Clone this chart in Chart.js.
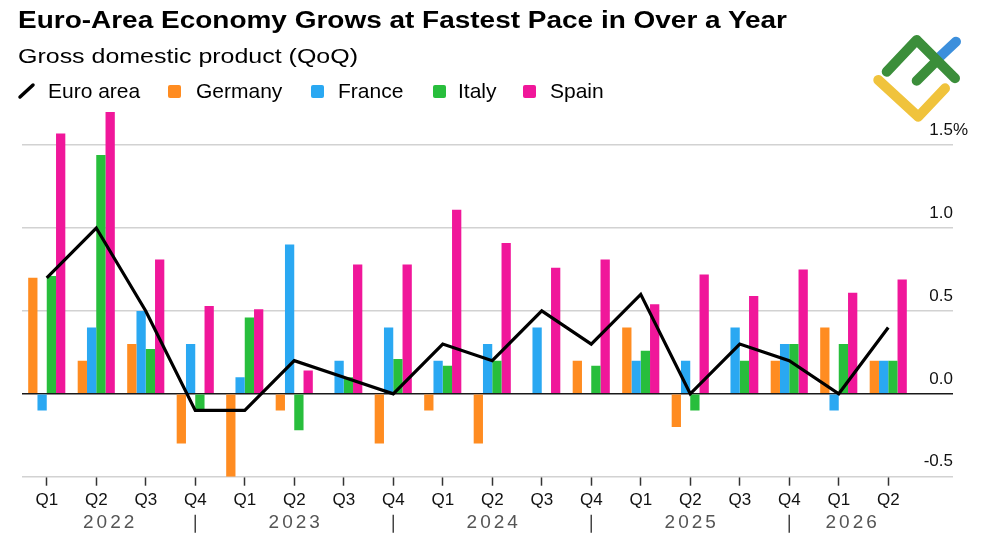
<!DOCTYPE html>
<html>
<head>
<meta charset="utf-8">
<script src="https://cdn.jsdelivr.net/npm/chart.js@4.4.1/dist/chart.umd.min.js"></script>
<style>
  html, body { margin: 0; padding: 0; background: #fff; }
  #wrap { position: relative; width: 1000px; height: 545px; overflow: hidden;
          font-family: 'Liberation Sans', Arial, sans-serif; color: #000; }
  #wrap canvas { position: absolute; left: 0; top: 0; }
  .txt { position: absolute; line-height: 1; white-space: nowrap; transform-origin: 0 0; }
  .title { font-weight: bold; font-size: 23px; left: 18px; top: 8.5px; }
  .sub { font-size: 20px; left: 18px; top: 46px; }
  .leg { font-size: 21px; top: 80px; }
  .sw { position: absolute; width: 13px; height: 13px; border-radius: 2px; top: 84.5px; }
  svg { position: absolute; left: 0; top: 0; }
</style>
</head>
<body>
<div id="wrap">
  <canvas id="chart" width="1000" height="545"></canvas>

  <div class="txt title" data-fit="769">Euro-Area Economy Grows at Fastest Pace in Over a Year</div>
  <div class="txt sub" data-fit="340">Gross domestic product (QoQ)</div>

  <div class="txt leg" style="left:48px">Euro area</div>
  <div class="sw" style="left:168px;background:#FF8C21"></div>
  <div class="txt leg" style="left:196px">Germany</div>
  <div class="sw" style="left:311px;background:#2AA8F2"></div>
  <div class="txt leg" style="left:338px">France</div>
  <div class="sw" style="left:433px;background:#28BE3C"></div>
  <div class="txt leg" style="left:458px">Italy</div>
  <div class="sw" style="left:523px;background:#F0179A"></div>
  <div class="txt leg" style="left:550px">Spain</div>

  <svg width="1000" height="545">
    <line x1="20" y1="97" x2="33" y2="85" stroke="#000" stroke-width="3.5" stroke-linecap="round"/>
    <g fill="none" stroke-width="10" stroke-linecap="round" stroke-linejoin="round">
      <polyline points="878.3,80 918.3,116.7 945,88.3" stroke="#F0C33C"/>
      <line x1="940" y1="56.7" x2="956" y2="41.7" stroke="#3C8FDC"/>
      <polyline points="886.7,71.7 916.7,40 955,78.3" stroke="#3B8E3A"/>
      <line x1="916.7" y1="80.7" x2="936.7" y2="60.7" stroke="#3B8E3A"/>
    </g>
  </svg>
</div>

<script>
const quarters = ['Q1', 'Q2', 'Q3', 'Q4', 'Q1', 'Q2', 'Q3', 'Q4', 'Q1', 'Q2', 'Q3', 'Q4',
                  'Q1', 'Q2', 'Q3', 'Q4', 'Q1', 'Q2'];
const years = ['2022', '2023', '2024', '2025', '2026'];

const euroArea = [0.7, 1.0, 0.5, -0.1, -0.1, 0.2, 0.1, 0.0, 0.3, 0.2, 0.5, 0.3, 0.6, 0.0, 0.3, 0.2, 0.0, 0.4];
const germany  = [0.7, 0.2, 0.3, -0.3, -0.5, -0.1, 0.0, -0.3, -0.1, -0.3, 0.0, 0.2, 0.4, -0.2, 0.0, 0.2, 0.4, 0.2];
const france   = [-0.1, 0.4, 0.5, 0.3, 0.1, 0.9, 0.2, 0.4, 0.2, 0.3, 0.4, 0.0, 0.2, 0.2, 0.4, 0.3, -0.1, 0.2];
const italy    = [0.71, 1.44, 0.27, -0.1, 0.46, -0.22, 0.1, 0.21, 0.17, 0.2, 0.0, 0.17, 0.26, -0.1, 0.2, 0.3, 0.3, 0.2];
const spain    = [1.57, 1.7, 0.81, 0.53, 0.51, 0.14, 0.78, 0.78, 1.11, 0.91, 0.76, 0.81, 0.54, 0.72, 0.59, 0.75, 0.61, 0.69];

const yTicks = [-0.5, 0, 0.5, 1.0, 1.5];
const yTickLabels = ['-0.5', '0.0', '0.5', '1.0', '1.5'];

const FONT = "'Liberation Sans', Arial, sans-serif";

// stretch the header texts to the reference widths
document.querySelectorAll('[data-fit]').forEach(function (el) {
    const w = el.getBoundingClientRect().width;
    el.style.transform = 'scaleX(' + (el.dataset.fit / w) + ')';
});

const extras = {
    id: 'extras',
    afterDraw(chart) {
        const { ctx, chartArea, scales: { x, y } } = chart;
        ctx.save();

        // y labels sit above their grid lines, right aligned at the grid end
        ctx.font = '17px ' + FONT;
        ctx.fillStyle = '#111';
        ctx.textBaseline = 'middle';
        const right = chartArea.right + 40;
        yTicks.forEach(function (v, i) {
            const py = y.getPixelForValue(v) - 15;
            ctx.textAlign = 'right';
            ctx.fillText(yTickLabels[i], right, py);
            if (i === yTicks.length - 1) {
                ctx.textAlign = 'left';
                ctx.fillText('%', right, py);
            }
        });

        // year separators under each Q4, year names between them
        const seps = [];
        quarters.forEach(function (q, i) {
            if (q === 'Q4') seps.push(x.getPixelForValue(i));
        });
        ctx.strokeStyle = '#444';
        ctx.lineWidth = 1.5;
        seps.forEach(function (sx) {
            ctx.beginPath();
            ctx.moveTo(sx, chartArea.bottom + 38);
            ctx.lineTo(sx, chartArea.bottom + 56);
            ctx.stroke();
        });
        const bounds = [chartArea.left].concat(seps, [chartArea.right]);
        ctx.fillStyle = '#555';
        ctx.font = '19px ' + FONT;
        ctx.letterSpacing = '3px';
        ctx.textAlign = 'center';
        years.forEach(function (yr, i) {
            ctx.fillText(yr, (bounds[i] + bounds[i + 1]) / 2 + 1.5, chartArea.bottom + 46);
        });
        ctx.restore();
    }
};

const gridColor = function (c) {
    return c.tick && c.tick.value === 0 ? '#1a1a1a' : '#d2d2d2';
};

const barSet = function (label, data, color) {
    return {
        label: label,
        data: data,
        backgroundColor: color,
        borderWidth: 0,
        barPercentage: 1,
        categoryPercentage: 0.75,
        order: 1
    };
};

new Chart(document.getElementById('chart'), {
    type: 'bar',
    data: {
        labels: quarters,
        datasets: [
            {
                type: 'line',
                label: 'Euro area',
                data: euroArea,
                borderColor: '#000',
                borderWidth: 3.2,
                pointRadius: 0,
                tension: 0,
                fill: false,
                order: 0
            },
            barSet('Germany', germany, '#FF8C21'),
            barSet('France', france, '#2AA8F2'),
            barSet('Italy', italy, '#28BE3C'),
            barSet('Spain', spain, '#F0179A')
        ]
    },
    options: {
        responsive: false,
        animation: false,
        layout: { padding: { left: 22, right: 47, top: 112, bottom: 0 } },
        plugins: {
            legend: { display: false },
            tooltip: { enabled: false }
        },
        scales: {
            x: {
                offset: true,
                grid: {
                    drawOnChartArea: false,
                    drawTicks: true,
                    tickLength: 9,
                    tickColor: '#333',
                    tickWidth: 1.5,
                    offset: false
                },
                border: { display: false },
                ticks: {
                    color: '#111',
                    font: { family: FONT, size: 17 },
                    padding: 4,
                    maxRotation: 0,
                    autoSkip: false
                },
                afterFit: function (s) { s.height = 68.3; }
            },
            y: {
                position: 'right',
                min: -0.5,
                max: 1.7,
                afterBuildTicks: function (s) {
                    s.ticks = yTicks.map(function (v) { return { value: v }; });
                },
                grid: {
                    color: gridColor,
                    tickColor: gridColor,
                    lineWidth: 1.5,
                    tickLength: 40
                },
                border: { display: false },
                ticks: { display: false },
                afterFit: function (s) { s.width = 40; }
            }
        }
    },
    plugins: [extras]
});
</script>
</body>
</html>
